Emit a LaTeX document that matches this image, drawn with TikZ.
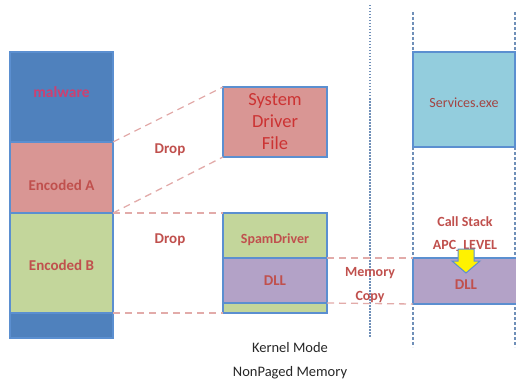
\documentclass[tikz,border=0pt]{standalone}
\usepackage{fontspec}
\setmainfont{Carlito}
\definecolor{mblue}{HTML}{4F81BD}
\definecolor{mpink}{HTML}{D99694}
\definecolor{mgreen}{HTML}{C3D69B}
\definecolor{mpurple}{HTML}{B3A2C7}
\definecolor{mcyan}{HTML}{93CDDD}
\definecolor{edge}{HTML}{5B8FD0}
\definecolor{lbl}{HTML}{C0504D}
\definecolor{dashc}{HTML}{E2ABA9}
\definecolor{vline}{HTML}{6F8FB8}
\tikzset{
  lab/.style={text=lbl, font=\fontsize{15}{18}\selectfont\bfseries},
  drop/.style={draw=dashc, line width=1.3pt, dash pattern=on 7pt off 5pt},
  sep/.style={draw=vline, line width=1.2pt, dash pattern=on 3pt off 2pt},
  blk2/.style={draw=edge, line width=1.2pt},
}
\begin{document}
\begin{tikzpicture}[x=1pt,y=-1pt]
\useasboundingbox (0,0) rectangle (516,385);
% left column
\fill[mblue] (10,52) rectangle (113,142);
\fill[mpink] (10,142) rectangle (113,213);
\fill[mgreen] (10,213) rectangle (113,313);
\fill[mblue] (10,313) rectangle (113,338);
\draw[blk2] (10,52) rectangle (113,338);
\draw[blk2] (10,142) -- (113,142) (10,213) -- (113,213) (10,313) -- (113,313);
\coordinate (a1) at (113,142);
\coordinate (a2) at (113,213);
\coordinate (a3) at (113,313);
\node[text=lbl!80!magenta, font=\fontsize{15.5}{18}\selectfont\bfseries] (malw) at (61.5,92) {malware};
\node[lab] (encA) at (61.5,185) {Encoded A};
\node[lab] (encB) at (61.5,265) {Encoded B};
% system driver file
\fill[mpink] (223,87) rectangle (327,157);
\draw[blk2] (223,87) rectangle (327,157);
\coordinate (s1) at (223,87);
\coordinate (s2) at (223,157);
\node[text=red!75!black!80, font=\fontsize{18.5}{22}\selectfont, align=center] (sdf) at (275,122) {System\\Driver\\File};
% spam driver stack
\fill[mgreen] (223,213) rectangle (327,258);
\fill[mpurple] (223,258) rectangle (327,303);
\fill[mgreen] (223,303) rectangle (327,313);
\draw[blk2] (223,213) rectangle (327,313);
\draw[blk2] (223,258) -- (327,258) (223,303) -- (327,303);
\coordinate (d1) at (223,213);
\coordinate (d2) at (223,313);
\coordinate (l1) at (327,258);
\coordinate (l2) at (327,303);
\node[lab, font=\fontsize{14}{17}\selectfont\bfseries] (spam) at (275,240) {SpamDriver};
\node[lab] (dll1) at (275,281) {DLL};
% drop lines
\draw[drop] (a1) -- (s1);
\draw[drop] (a2) -- (s2);
\draw[drop] (a2) -- (d1);
\draw[drop] (a3) -- (d2);
\node[lab] (drop1) at (170,150) {Drop};
\node[lab] (drop2) at (170,240) {Drop};
% vertical separators
\draw[sep, dash pattern=on 1.5pt off 1.5pt] (370,5) -- (370,338);
\draw[sep] (413,12) -- (413,347);
\draw[sep] (515,12) -- (515,347);
% services
\fill[mcyan] (413,52) rectangle (515,147);
\draw[blk2] (413,52) rectangle (515,147);
\node[text=lbl!85!black, font=\fontsize{14}{17}\selectfont] (svc) at (464,103) {Services.exe};
% right DLL
\fill[mpurple] (413,258) rectangle (516,304);
\draw[blk2] (516,258) -- (413,258) -- (413,304) -- (516,304);
\coordinate (r1) at (413,258);
\coordinate (r2) at (413,304);
\draw[drop] (l1) -- (r1);
\draw[drop] (l2) -- (r2);
\node[lab] (dll2) at (466,285) {DLL};
\node[lab, font=\fontsize{14}{17}\selectfont\bfseries] (mem) at (370,273) {Memory};
\node[lab, font=\fontsize{14}{17}\selectfont\bfseries] (copy) at (370,297) {Copy};
\node[lab, font=\fontsize{14}{17}\selectfont\bfseries] (cs) at (465,222) {Call Stack};
\node[lab, font=\fontsize{14}{17}\selectfont\bfseries] (apc) at (465,246) {APC\_LEVEL};
% yellow down arrow
\draw[fill=yellow, draw=edge, line width=1pt, line join=miter]
  (458,249) -- (474,249) -- (474,261) -- (480,261) -- (466,273) -- (452,261) -- (458,261) -- cycle;
% bottom labels
\node[font=\fontsize{14.5}{17}\selectfont, text=black!85] (km) at (290,348) {Kernel Mode};
\node[font=\fontsize{14.5}{17}\selectfont, text=black!85] (npm) at (290,373) {NonPaged Memory};
\end{tikzpicture}
\end{document}
